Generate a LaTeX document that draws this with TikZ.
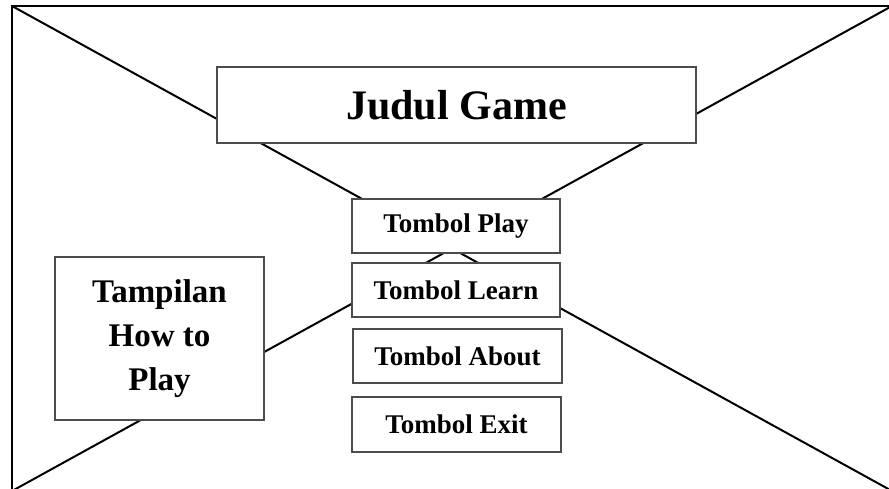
\documentclass[tikz,border=0pt]{standalone}
\usepackage{fontspec}
\setmainfont{Liberation Serif}
\begin{document}
\begin{tikzpicture}[x=1pt,y=-1pt,
  frameline/.style={line width=2pt,black},
  box/.style={draw=black!70,line width=1.3pt,fill=white,inner sep=0pt,
    align=center,font=\bfseries},
  btn/.style={box,minimum width=208pt,minimum height=54pt,
    font=\fontsize{27}{30}\selectfont\bfseries}]
\useasboundingbox (0,0) rectangle (889,488);
\clip (0,0) rectangle (889,488);
% outer screen frame with its crossed diagonals
\coordinate (tl) at (12,6);
\coordinate (tr) at (892,6);
\coordinate (bl) at (12,491);
\coordinate (br) at (892,491);
\draw[frameline] (tl) rectangle (br);
\draw[frameline] (tl) -- (br);
\draw[frameline] (tr) -- (bl);
% title and menu buttons
\node[box,minimum width=479pt,minimum height=76pt,
  font=\fontsize{42}{46}\selectfont\bfseries] (title) at (456.5,105) {Judul Game};
\node[btn] (play) at (456,226) {Tombol Play};
\node[btn] (learn) at (456,290) {Tombol Learn};
\node[btn,minimum width=209pt] (about) at (457.5,356) {Tombol About};
\node[btn,minimum width=209pt,minimum height=55pt] (exit) at (456.5,424.5) {Tombol Exit};
% how-to-play panel
\node[box,minimum width=209pt,minimum height=163pt,
  font=\fontsize{33}{44}\selectfont\bfseries] (howto) at (159.5,338.5)
  {Tampilan\\How to\\Play};
\end{tikzpicture}
\end{document}
